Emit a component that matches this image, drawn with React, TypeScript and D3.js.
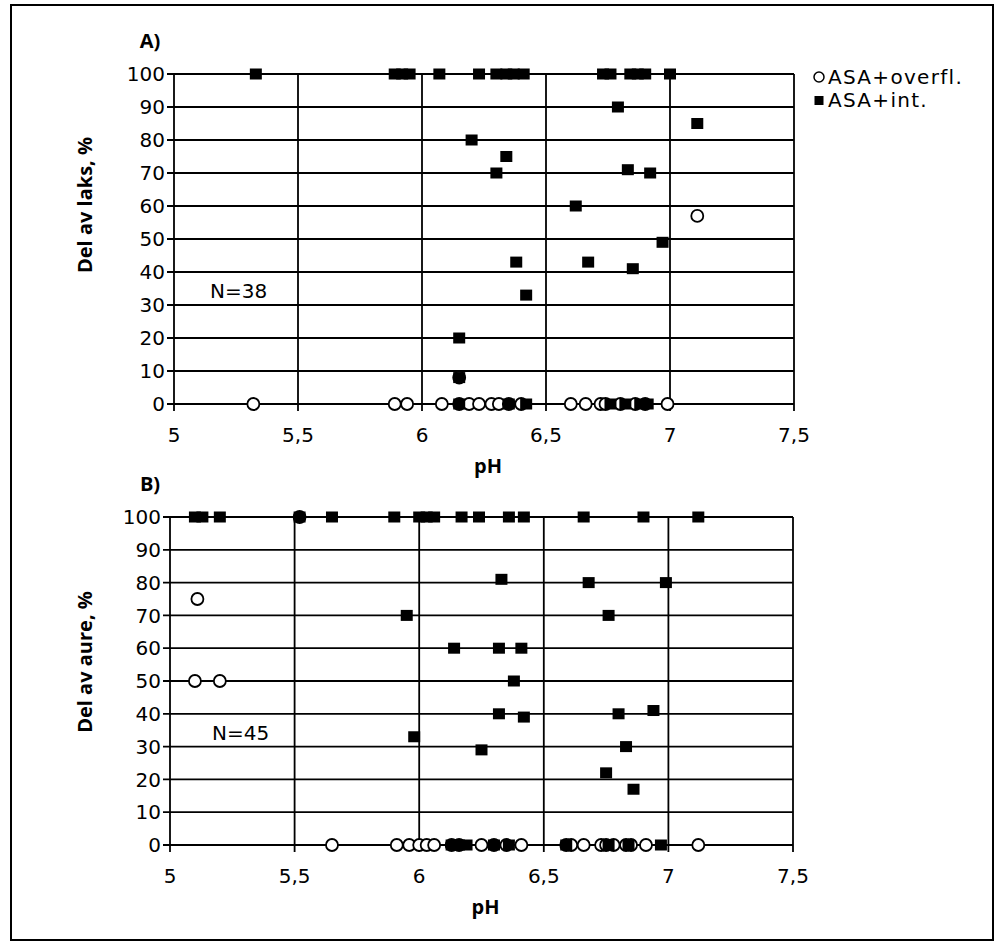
import React from 'react'
import * as d3 from 'd3'

// pH ticks and % ticks
const xTicks = [5, 5.5, 6, 6.5, 7, 7.5]
const xTickLabels = ['5', '5,5', '6', '6,5', '7', '7,5']
const yTicks = [0, 10, 20, 30, 40, 50, 60, 70, 80, 90, 100]

// A) laks  -  [pH, %]
const laksOverfl = [
    [7.11, 57], [6.15, 8],
    [5.32, 0], [5.89, 0], [5.94, 0], [6.08, 0], [6.15, 0], [6.19, 0], [6.23, 0], [6.28, 0],
    [6.31, 0], [6.35, 0], [6.40, 0], [6.60, 0], [6.66, 0], [6.72, 0], [6.74, 0], [6.80, 0],
    [6.86, 0], [6.90, 0], [6.99, 0]
]
const laksInt = [
    [5.33, 100], [5.89, 100], [5.92, 100], [5.95, 100], [6.07, 100], [6.23, 100], [6.30, 100],
    [6.34, 100], [6.37, 100], [6.41, 100], [6.73, 100], [6.76, 100], [6.84, 100], [6.87, 100],
    [6.90, 100], [7.0, 100],
    [6.79, 90], [7.11, 85], [6.20, 80], [6.34, 75], [6.83, 71], [6.30, 70], [6.92, 70],
    [6.62, 60], [6.97, 49], [6.38, 43], [6.67, 43], [6.85, 41], [6.42, 33], [6.15, 20], [6.15, 8],
    [6.15, 0], [6.35, 0], [6.42, 0], [6.76, 0], [6.82, 0], [6.88, 0], [6.91, 0]
]

// B) aure
const aureOverfl = [
    [5.52, 100], [5.11, 75], [5.10, 50], [5.20, 50],
    [5.65, 0], [5.91, 0], [5.96, 0], [6.00, 0], [6.03, 0], [6.06, 0], [6.13, 0], [6.16, 0],
    [6.25, 0], [6.30, 0], [6.35, 0], [6.41, 0], [6.59, 0], [6.61, 0], [6.66, 0], [6.73, 0],
    [6.75, 0], [6.78, 0], [6.83, 0], [6.85, 0], [6.91, 0], [7.12, 0]
]
const aureInt = [
    [5.10, 100], [5.13, 100], [5.20, 100], [5.52, 100], [5.65, 100], [5.90, 100], [6.00, 100],
    [6.03, 100], [6.06, 100], [6.17, 100], [6.24, 100], [6.36, 100], [6.42, 100], [6.66, 100],
    [6.90, 100], [7.12, 100],
    [6.33, 81], [6.68, 80], [6.99, 80], [5.95, 70], [6.76, 70], [6.14, 60], [6.32, 60], [6.41, 60],
    [6.38, 50], [6.94, 41], [6.32, 40], [6.80, 40], [6.42, 39], [5.98, 33], [6.83, 30], [6.25, 29],
    [6.75, 22], [6.86, 17],
    [6.13, 0], [6.16, 0], [6.19, 0], [6.30, 0], [6.36, 0], [6.59, 0], [6.76, 0], [6.84, 0], [6.97, 0]
]

const FONT = '"DejaVu Sans", sans-serif'
const BOLD = '"Open Sans", sans-serif'

const Panel = ({box, label, title, titleY, nText, nPos, circles, squares}) => {
    const x = d3.scaleLinear().domain([5, 7.5]).range([box.left, box.right])
    const y = d3.scaleLinear().domain([0, 100]).range([box.bottom, box.top])

    const line_props = { stroke: '#000', strokeWidth: 1.8 }

    return (
        <g>
            {/* grid */}
            {yTicks.map(t =>
                <line key={'h' + t} x1={x(5) - 7} x2={x(7.5)} y1={y(t)} y2={y(t)} {...line_props} />
            )}
            {xTicks.map(t =>
                <line key={'v' + t} x1={x(t)} x2={x(t)} y1={y(100)} y2={y(0) + 7} {...line_props} />
            )}

            {/* tick labels */}
            {yTicks.map(t =>
                <text key={'yl' + t} x={x(5) - 9} y={y(t)} dy="0.36em" textAnchor="end"
                      style={{fontFamily: FONT, fontSize: '20px'}}>{t}</text>
            )}
            {xTicks.map((t, i) =>
                <text key={'xl' + t} x={x(t)} y={y(0) + 38} textAnchor="middle"
                      style={{fontFamily: FONT, fontSize: '20px'}}>{xTickLabels[i]}</text>
            )}

            <text x={x(6.25) + 4} y={y(0) + 69} textAnchor="middle"
                  style={{fontFamily: BOLD, fontWeight: 700, fontSize: '20px'}}>pH</text>
            <text x={150} y={box.top - 26} textAnchor="middle"
                  style={{fontFamily: BOLD, fontWeight: 700, fontSize: '20px'}}>{label}</text>
            <text transform={`translate(92, ${titleY}) rotate(-90)`} textAnchor="middle"
                  style={{fontFamily: BOLD, fontWeight: 700, fontSize: '20px'}}>{title}</text>
            <text x={nPos[0]} y={nPos[1]} style={{fontFamily: FONT, fontSize: '20px'}}>{nText}</text>

            {/* markers */}
            {circles.map((d, i) =>
                <circle key={'c' + i} cx={x(d[0])} cy={y(d[1])} r={6}
                        fill="#fff" stroke="#000" strokeWidth={1.8} />
            )}
            {squares.map((d, i) =>
                <rect key={'s' + i} x={x(d[0]) - 6} y={y(d[1]) - 5.5} width={12} height={11} fill="#000" />
            )}
        </g>
    )
}

const Legend = () => (
    <g style={{fontFamily: FONT, fontSize: '20px', letterSpacing: '1.3px'}}>
        <circle cx={819} cy={77} r={5} fill="#fff" stroke="#000" strokeWidth={1.5} />
        <text x={828} y={84}>ASA+overfl.</text>
        <rect x={814.5} y={96} width={9} height={9} fill="#000" />
        <text x={828} y={107}>ASA+int.</text>
    </g>
)

export default function App() {
    const svgDimensions = { width: 1002, height: 943 }

    return (
        <svg {...svgDimensions} style={{position: 'absolute', left: 0, top: 0, background: '#fff'}}>
            <rect x={11} y={5} width={982} height={935} fill="#fff" stroke="#000" strokeWidth={2} />
            <Panel box={{left: 174, right: 794, top: 74, bottom: 404}}
                   label="A)" title="Del av laks, %" titleY={205}
                   nText="N=38" nPos={[210, 298]}
                   circles={laksOverfl} squares={laksInt} />
            <Panel box={{left: 170, right: 793, top: 517, bottom: 845}}
                   label="B)" title="Del av aure, %" titleY={662}
                   nText="N=45" nPos={[212, 740]}
                   circles={aureOverfl} squares={aureInt} />
            <Legend />
        </svg>
    )
}
